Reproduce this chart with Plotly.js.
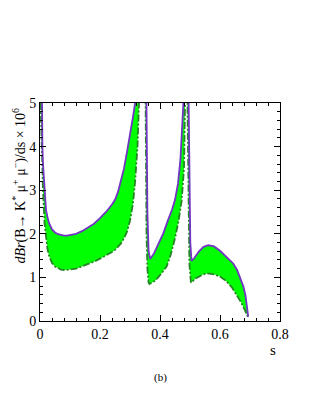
<!DOCTYPE html>
<html>
<head>
<meta charset="utf-8">
<script src="https://cdn.plot.ly/plotly-3.0.1.min.js"></script>
<style>
  html, body { margin: 0; padding: 0; background: #fff; }
  #chart { width: 321px; height: 415px; }
</style>
</head>
<body>
<div id="chart"></div>
<script>
// band between the two curves, split at the two charmonium poles
const s1 = [0.002, 0.005, 0.008, 0.01, 0.015, 0.02, 0.025, 0.03, 0.04, 0.05, 0.06, 0.07, 0.08, 0.09, 0.1, 0.12, 0.14, 0.16, 0.18, 0.2, 0.22, 0.24, 0.25, 0.26, 0.27, 0.28, 0.29, 0.3, 0.31, 0.317, 0.325, 0.33, 0.335];
const up1 = [9, 5.0, 4.0, 3.6, 2.9, 2.55, 2.38, 2.25, 2.1, 2.03, 1.99, 1.97, 1.96, 1.96, 1.97, 2.0, 2.06, 2.14, 2.23, 2.36, 2.5, 2.67, 2.78, 2.96, 3.2, 3.5, 3.88, 4.25, 4.68, 5.0, 6.0, 7.5, 9];
const lo1 = [5.0, 4.2, 3.4, 3.0, 2.25, 1.9, 1.65, 1.5, 1.33, 1.25, 1.21, 1.18, 1.17, 1.17, 1.18, 1.2, 1.25, 1.3, 1.36, 1.43, 1.5, 1.58, 1.63, 1.7, 1.78, 1.9, 2.05, 2.3, 2.7, 3.2, 4.0, 5.0, 6.5];

const s2u = [0.35, 0.354, 0.358, 0.362, 0.367, 0.38, 0.39, 0.4, 0.411, 0.427, 0.44, 0.45, 0.46, 0.468, 0.474, 0.478, 0.483];
const up2 = [9, 5.0, 2.5, 1.6, 1.42, 1.55, 1.7, 1.85, 2.01, 2.32, 2.55, 2.78, 3.15, 3.7, 4.4, 5.0, 7];
const s2l = [0.348, 0.351, 0.355, 0.358, 0.362, 0.365, 0.375, 0.383, 0.4, 0.411, 0.422, 0.435, 0.45, 0.462, 0.472, 0.48, 0.485, 0.488];
const lo2 = [9, 5.0, 2.0, 1.2, 0.88, 0.85, 0.88, 0.92, 1.05, 1.14, 1.25, 1.5, 1.9, 2.3, 2.75, 3.5, 5.0, 7];

const s3u = [0.492, 0.495, 0.498, 0.501, 0.505, 0.515, 0.53, 0.545, 0.561, 0.58, 0.6, 0.62, 0.644, 0.657, 0.667, 0.678, 0.685, 0.689, 0.694];
const up3 = [7, 5.0, 3.0, 1.8, 1.38, 1.45, 1.6, 1.7, 1.74, 1.71, 1.61, 1.48, 1.32, 1.17, 1.0, 0.79, 0.58, 0.4, 0.1];
const s3l = [0.488, 0.491, 0.494, 0.498, 0.503, 0.511, 0.52, 0.533, 0.545, 0.56, 0.58, 0.6, 0.62, 0.64, 0.656, 0.67, 0.683, 0.693];
const lo3 = [7, 5.0, 2.5, 1.3, 0.88, 0.93, 0.98, 1.03, 1.07, 1.09, 1.07, 1.02, 0.92, 0.77, 0.6, 0.43, 0.25, 0.09];

const xTicks = [0, 0.2, 0.4, 0.6, 0.8];
const yTicks = [0, 1, 2, 3, 4, 5];

const purple = "#7435c4";
const dgreen = "#248624";
const serif = "Liberation Serif";

function band(sl, lo, su, up) {
  return [
    { x: sl, y: lo, mode: "lines", line: { color: dgreen, width: 1.8, dash: "7px,2px,2px,2px" }, hoverinfo: "skip" },
    { x: su, y: up, mode: "lines", line: { color: purple, width: 1.8 }, fill: "tonexty", fillcolor: "#00ff00", hoverinfo: "skip" }
  ];
}

const traces = [
  ...band(s1, lo1, s1, up1),
  ...band(s2l, lo2, s2u, up2),
  ...band(s3l, lo3, s3u, up3)
];

const axisCommon = {
  showgrid: false,
  zeroline: false,
  showline: true,
  linecolor: "#000",
  linewidth: 1,
  mirror: "ticks",
  ticks: "inside",
  ticklen: 6,
  tickcolor: "#000",
  tickfont: { family: serif, size: 14, color: "#000" }
};

const layout = {
  width: 321,
  height: 415,
  paper_bgcolor: "#fff",
  plot_bgcolor: "#fff",
  showlegend: false,
  margin: { l: 40, r: 41, t: 103, b: 94 },
  xaxis: {
    ...axisCommon,
    range: [0, 0.8],
    tickvals: xTicks,
    ticktext: xTicks.map((v) => (v === 0 ? "0" : v.toFixed(1))),
    minor: { dtick: 0.04, ticks: "inside", ticklen: 3, tickcolor: "#000" }
  },
  yaxis: {
    ...axisCommon,
    range: [0, 5],
    tickvals: yTicks,
    ticktext: yTicks.map(String),
    minor: { dtick: 0.2, ticks: "inside", ticklen: 3, tickcolor: "#000" }
  },
  annotations: [
    {
      text: "<i>dBr</i>(B→ K<sup>*</sup> μ<sup>+</sup> μ<sup>−</sup>)/ds × 10<sup>6</sup>",
      xref: "paper", yref: "paper", x: -0.085, y: 0.62,
      xanchor: "center", yanchor: "middle", textangle: -90, showarrow: false,
      font: { family: serif, size: 14, color: "#000" }
    },
    {
      text: "s",
      xref: "paper", yref: "paper", x: 0.97, y: -0.135,
      xanchor: "center", yanchor: "middle", showarrow: false, borderpad: 0,
      font: { family: serif, size: 15, color: "#000" }
    },
    {
      text: "(b)",
      xref: "paper", yref: "paper", x: 0.5, y: -0.22,
      xanchor: "center", yanchor: "top", showarrow: false,
      font: { family: serif, size: 11, color: "#000" }
    }
  ]
};

Plotly.newPlot("chart", traces, layout, { displayModeBar: false, staticPlot: true });
</script>
</body>
</html>
